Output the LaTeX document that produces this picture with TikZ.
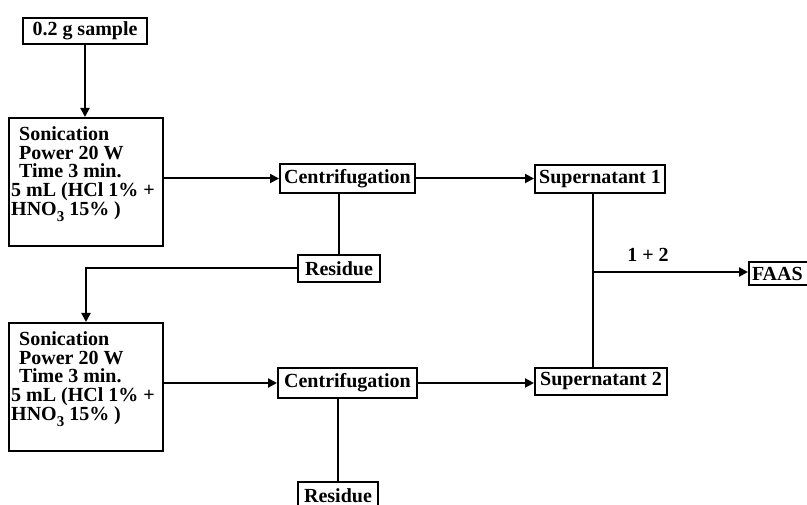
\documentclass[tikz,border=0pt]{standalone}
\usepackage{fontspec}
\setmainfont{Liberation Serif}
\usetikzlibrary{arrows.meta,calc}
\newcommand{\sonictext}{%
  \hspace*{8pt}Sonication\\
  \hspace*{8pt}Power 20 W\\
  \hspace*{8pt}Time 3 min.\\
  \mbox{5 mL (HCl 1\% +}\\
  \mbox{HNO\raisebox{-0.3em}{\fontsize{15}{15}\selectfont 3} 15\% )}}
\begin{document}
\begin{tikzpicture}[x=1pt,y=-1pt,
  txt/.style={font=\bfseries\fontsize{20}{18.7}\selectfont},
  box/.style={txt, draw, line width=2pt, inner sep=2pt},
  sonbox/.style={draw, line width=2pt, minimum width=154pt, minimum height=128pt},
  sontext/.style={txt, anchor=north west, inner sep=0pt, align=left},
  link/.style={line width=2pt},
  arr/.style={link, -{Triangle[length=9pt,width=9pt]}}
]
\useasboundingbox (0,0) rectangle (807,505);

% boxes
\node[box, minimum width=124pt, minimum height=26pt] (sample) at (85,31) {0.2 g sample};
\node[sonbox] (son1) at (86,182) {};
\node[sontext] (son1t) at ($(son1.north west)+(3,9.5)$) {\sonictext};
\node[box, minimum width=135pt, minimum height=29pt] (c1) at (347.5,178.5) {Centrifugation};
\node[box, minimum width=82pt, minimum height=27pt] (res1) at (339,268.5) {Residue};
\node[box, minimum width=130pt, minimum height=28pt] (sup1) at (600,179) {Supernatant 1};

\node[sonbox] (son2) at (86,387) {};
\node[sontext] (son2t) at ($(son2.north west)+(3,9.5)$) {\sonictext};
\node[box, minimum width=139pt, minimum height=30pt] (c2) at (347.5,383) {Centrifugation};
\node[box, minimum width=132pt, minimum height=27pt] (sup2) at (601,381.5) {Supernatant 2};
\node[box, minimum width=80pt, minimum height=27pt] (res2) at (338,495.5) {Residue};

% the analysis box runs past the right edge of the page
\node[box, anchor=west, minimum height=23pt, text width=58pt, inner sep=3pt,
  align=left] (faas) at (748,273.5) {FAAS};

% junction of the two supernatants
\coordinate (j) at (593,272);
\node[txt, inner sep=0pt] (mix) at (648,255) {1 + 2};

% connectors
\draw[arr] (sample.south) -- (sample.south |- son1.north);
\draw[arr] (son1.east |- c1) -- (c1.west);
\draw[arr] (c1.east) -- (sup1.west |- c1);
\draw[link] (res1.north |- c1.south) -- (res1.north);
\draw[arr] (res1.west) -| (son2.north);

\draw[arr] (son2.east |- c2) -- (c2.west);
\draw[arr] (c2.east) -- (sup2.west |- c2);
\draw[link] (res2.north |- c2.south) -- (res2.north);

\draw[link] (sup1.south -| j) -- (sup2.north -| j);
\draw[arr] (j) -- (faas.west |- j);
\end{tikzpicture}
\end{document}
